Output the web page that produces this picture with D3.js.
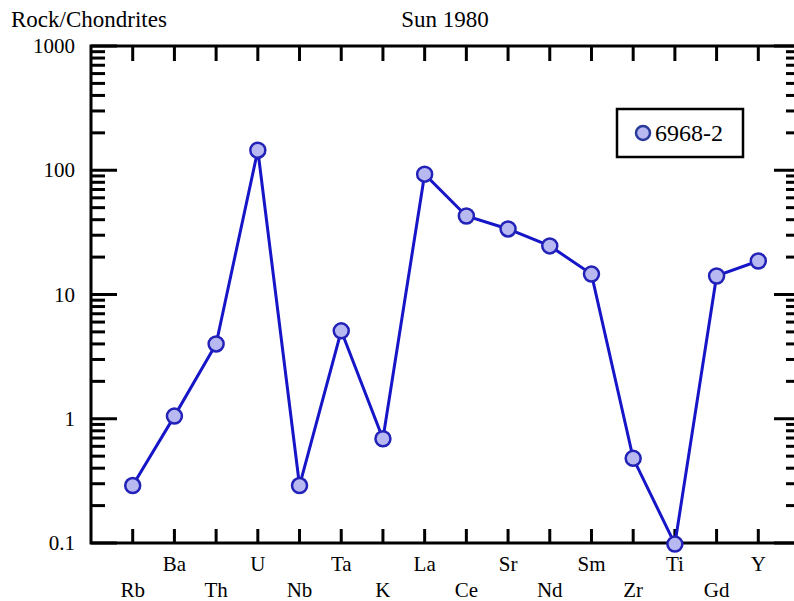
<!DOCTYPE html>
<html><head><meta charset="utf-8">
<script src="https://cdn.jsdelivr.net/npm/d3@7"></script>
<style>body{margin:0;background:#fff}svg{display:block}text{font-family:"Liberation Serif","Times New Roman",serif;fill:#000}</style>
</head><body>
<script>
const elements = ["Rb","Ba","Th","U","Nb","Ta","K","La","Ce","Sr","Nd","Sm","Zr","Ti","Gd","Y"];
const values = [0.29,1.05,4.0,145,0.29,5.1,0.69,93,42.8,33.7,24.6,14.6,0.48,0.098,14.1,18.6];
const yTickLabels = ["0.1","1","10","100","1000"];
const seriesName = "6968-2";
const yLabel = "Rock/Chondrites";
const title = "Sun 1980";

const W=794,H=601;
const L=91,R=800,T=46,B=543;
const svg=d3.select("body").append("svg").attr("width",W).attr("height",H);
const x=d3.scaleLinear().domain([0,elements.length+1]).range([L,R]);
const y=d3.scaleLog().domain([0.1,1000]).range([B,T]);

const ax="#000";
svg.append("rect").attr("x",L).attr("y",T).attr("width",R-L).attr("height",B-T).attr("fill","none").attr("stroke",ax).attr("stroke-width",3);

elements.forEach((e,i)=>{
  const xx=x(i+1);
  svg.append("line").attr("x1",xx).attr("x2",xx).attr("y1",T).attr("y2",T+15).attr("stroke",ax).attr("stroke-width",3);
  svg.append("line").attr("x1",xx).attr("x2",xx).attr("y1",B).attr("y2",B-14).attr("stroke",ax).attr("stroke-width",3);
  svg.append("text").attr("x",xx).attr("y",i%2===1?571:597).attr("text-anchor","middle").attr("font-size",21).text(e);
});

yTickLabels.forEach((lab,k)=>{
  const v=+lab;
  const yy=y(v);
  svg.append("line").attr("x1",L).attr("x2",L+26).attr("y1",yy).attr("y2",yy).attr("stroke",ax).attr("stroke-width",3);
  svg.append("line").attr("x1",R).attr("x2",R-26).attr("y1",yy).attr("y2",yy).attr("stroke",ax).attr("stroke-width",3);
  svg.append("text").attr("x",75).attr("y",yy+7).attr("text-anchor","end").attr("font-size",21).text(lab);
  if(k<yTickLabels.length-1){
    for(let m=2;m<=9;m++){
      const ym=y(v*m);
      svg.append("line").attr("x1",L).attr("x2",L+14).attr("y1",ym).attr("y2",ym).attr("stroke",ax).attr("stroke-width",3);
      svg.append("line").attr("x1",R).attr("x2",R-14).attr("y1",ym).attr("y2",ym).attr("stroke",ax).attr("stroke-width",3);
    }
  }
});

svg.append("text").attr("x",11).attr("y",27).attr("font-size",23).text(yLabel);
svg.append("text").attr("x",445).attr("y",27).attr("text-anchor","middle").attr("font-size",23).text(title);

const line=d3.line().x((d,i)=>x(i+1)).y(d=>y(d));
svg.append("path").datum(values).attr("d",line).attr("fill","none").attr("stroke","#1616c8").attr("stroke-width",3);
svg.selectAll("circle.pt").data(values).enter().append("circle").attr("class","pt")
  .attr("cx",(d,i)=>x(i+1)).attr("cy",d=>y(d)).attr("r",7.5)
  .attr("fill","#b9b9f2").attr("stroke","#2222b8").attr("stroke-width",2.5);

const lg=svg.append("g");
lg.append("rect").attr("x",617).attr("y",109).attr("width",126).attr("height",48).attr("fill","#fff").attr("stroke","#000").attr("stroke-width",2.5);
lg.append("circle").attr("cx",643).attr("cy",133).attr("r",7).attr("fill","#b9b9f2").attr("stroke","#2a3a9a").attr("stroke-width",2.5);
lg.append("text").attr("x",655).attr("y",141).attr("font-size",24).text(seriesName);
</script>
</body></html>
